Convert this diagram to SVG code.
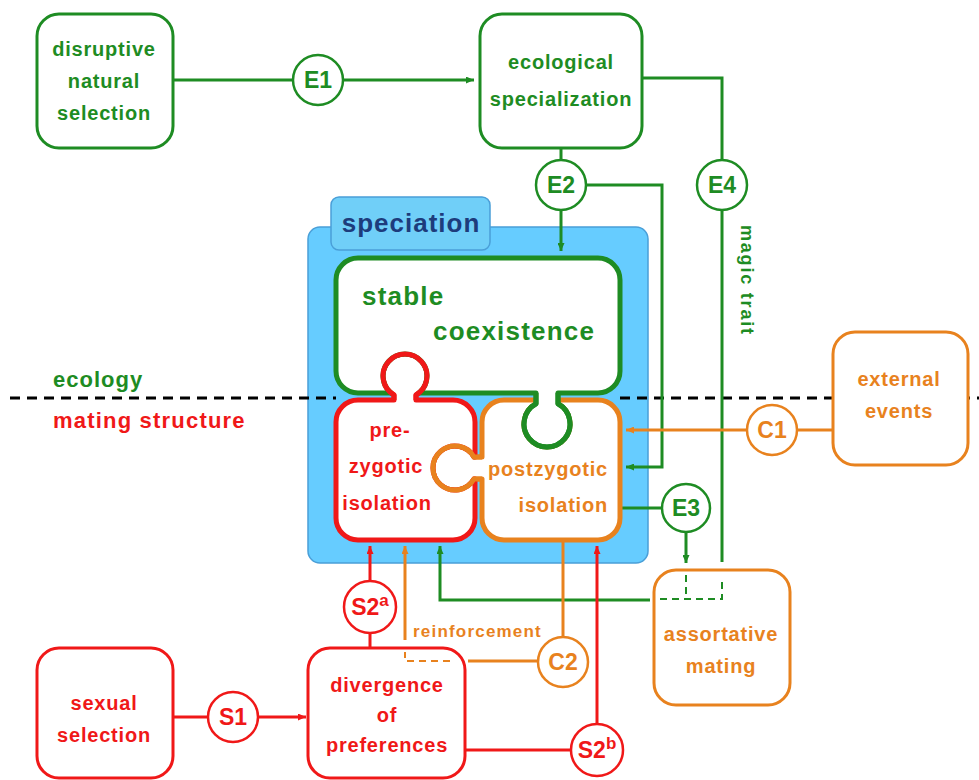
<svg xmlns="http://www.w3.org/2000/svg" width="979" height="780" viewBox="0 0 979 780">
<defs>
<style>
text{font-family:"Liberation Sans",Arial,sans-serif;font-weight:bold;}
.lbl{font-size:20px;letter-spacing:0.8px;text-anchor:middle;}
.g{fill:#1e8c23;} .r{fill:#f01818;} .o{fill:#e8821e;}
.box{fill:#fff;stroke-width:3;}
.sg{stroke:#1e8c23;} .sr{stroke:#f01818;} .so{stroke:#e8821e;}
.circ{fill:#fff;stroke-width:2.5;}
.ct{font-size:23px;text-anchor:middle;}
.ln{fill:none;stroke-width:3;}
.dash{fill:none;stroke-width:2;stroke-dasharray:7 5;}
.piece{fill:#fff;stroke-width:5;stroke-linejoin:round;}
.knob{fill:none;stroke-width:5;stroke-linejoin:round;}
</style>
<marker id="ag" viewBox="0 0 8 7" refX="8" refY="3.5" markerWidth="8" markerHeight="7" markerUnits="userSpaceOnUse" orient="auto"><path d="M0,0 L8,3.5 L0,7 z" fill="#1e8c23"/></marker>
<marker id="ar" viewBox="0 0 8 7" refX="8" refY="3.5" markerWidth="8" markerHeight="7" markerUnits="userSpaceOnUse" orient="auto"><path d="M0,0 L8,3.5 L0,7 z" fill="#f01818"/></marker>
<marker id="ao" viewBox="0 0 8 7" refX="8" refY="3.5" markerWidth="8" markerHeight="7" markerUnits="userSpaceOnUse" orient="auto"><path d="M0,0 L8,3.5 L0,7 z" fill="#e8821e"/></marker>
</defs>
<rect width="979" height="780" fill="#fff"/>

<g id="speciation">
<rect x="308" y="227" width="340" height="336" rx="12" fill="#66ccff" stroke="#4a9fd8" stroke-width="1.5"/>
<rect x="331" y="197" width="159" height="53" rx="8" fill="#70cff8" stroke="#4a9fd8" stroke-width="1.5"/>
<text x="411" y="232" style="font-size:26px;letter-spacing:1px;text-anchor:middle;fill:#1d3c7c">speciation</text>
</g>

<g id="divider">
<path d="M10,398 H336 M620,398 H979" fill="none" stroke="#000" stroke-width="3" stroke-dasharray="10 7"/>
<text x="53" y="387" class="g" style="font-size:22px;letter-spacing:1px">ecology</text>
<text x="53" y="428" class="r" style="font-size:22px;letter-spacing:1.2px">mating structure</text>
</g>

<g id="connectors">
<path class="ln sg" d="M173,80 H293"/>
<path class="ln sg" d="M343,80 H474" marker-end="url(#ag)"/>
<path class="ln sg" d="M561,148 V160"/>
<path class="ln sg" d="M561,210 V251" marker-end="url(#ag)"/>
<path class="ln sg" d="M586,185 H662 V467 H626" marker-end="url(#ag)"/>
<path class="ln sg" d="M642,78 H722 V160"/>
<path class="ln sg" d="M722,210 V562"/>
<path class="ln sg" d="M620,508 H661"/>
<path class="ln sg" d="M686,533 V563" marker-end="url(#ag)"/>
<path class="ln sg" d="M650,600 H440 V546" marker-end="url(#ag)"/>
<path class="dash sg" d="M686,575 V599 M660,599 H722 V580"/>
<path class="ln so" d="M833,430 H797"/>
<path class="ln so" d="M747,430 H626" marker-end="url(#ao)"/>
<path class="ln so" d="M563,637 V541"/>
<path class="ln so" d="M538,661 H468"/>
<path class="dash so" d="M450,661 H405 V652"/>
<path class="ln so" d="M405,640 V546" marker-end="url(#ao)"/>
<path class="ln sr" d="M173,717 H207"/>
<path class="ln sr" d="M259,717 H306" marker-end="url(#ar)"/>
<path class="ln sr" d="M370,648 V634"/>
<path class="ln sr" d="M370,581 V546" marker-end="url(#ar)"/>
<path class="ln sr" d="M465,750 H570"/>
<path class="ln sr" d="M597,723 V546" marker-end="url(#ar)"/>
<text transform="translate(741,225) rotate(90)" class="g" style="font-size:18px;letter-spacing:1.8px">magic trait</text>
<text x="413" y="637" class="o" style="font-size:17px;letter-spacing:1.2px">reinforcement</text>
</g>

<g id="postzygotic">
<path class="piece so" d="M504,400 L536,400 L536,403.8 A23,23 0 1 0 558,403.8 L558,400 L598,400 A22,22 0 0 1 620,422 L620,518 A22,22 0 0 1 598,540 L504,540 A22,22 0 0 1 482,518 L482,479 L474,479 A22,22 0 1 1 474,457 L482,457 L482,422 A22,22 0 0 1 504,400 Z"/>
<text x="608" y="476" class="o" style="font-size:20px;letter-spacing:0.8px;text-anchor:end">postzygotic</text>
<text x="608" y="512" class="o" style="font-size:20px;letter-spacing:0.8px;text-anchor:end">isolation</text>
</g>

<g id="prezygotic">
<path class="piece sr" d="M358,400 L394,400 L394,395 A22,22 0 1 1 416,395 L416,400 L453,400 A22,22 0 0 1 475,422 L475,457 L474,457 A22,22 0 1 0 474,479 L475,479 L475,518 A22,22 0 0 1 453,540 L358,540 A22,22 0 0 1 336,518 L336,422 A22,22 0 0 1 358,400 Z"/>
<text x="390" y="437" class="lbl r">pre-</text>
<text x="386" y="473" class="lbl r">zygotic</text>
<text x="387" y="510" class="lbl r">isolation</text>
</g>

<g id="coexistence">
<path class="piece sg" d="M358,258 L598,258 A22,22 0 0 1 620,280 L620,371 A22,22 0 0 1 598,393 L558,393 L558,403.8 A23,23 0 1 1 536,403.8 L536,393 L419,393 A22,22 0 1 0 391,393 L358,393 A22,22 0 0 1 336,371 L336,280 A22,22 0 0 1 358,258 Z"/>
<text x="362" y="305" class="g" style="font-size:26px;letter-spacing:1.2px">stable</text>
<text x="433" y="340" class="g" style="font-size:26px;letter-spacing:1.2px">coexistence</text>
</g>

<g id="knobs">
<path class="knob sr" d="M394,400 L394,395 A22,22 0 1 1 416,395 L416,400"/>
<path class="knob so" d="M482,479 L474,479 A22,22 0 1 1 474,457 L482,457"/>
<path class="knob sg" d="M558,393 L558,403.8 A23,23 0 1 1 536,403.8 L536,393"/>
</g>

<g id="disruptive">
<rect x="37" y="14" width="136" height="134" rx="22" class="box sg"/>
<text x="104" y="56" class="lbl g">disruptive</text>
<text x="104" y="88" class="lbl g">natural</text>
<text x="104" y="120" class="lbl g">selection</text>
</g>

<g id="ecological">
<rect x="480" y="14" width="162" height="134" rx="22" class="box sg"/>
<text x="561" y="69" class="lbl g">ecological</text>
<text x="561" y="106" class="lbl g">specialization</text>
</g>

<g id="external">
<rect x="833" y="332" width="135" height="133" rx="22" class="box so"/>
<text x="899" y="386" class="lbl o">external</text>
<text x="899" y="418" class="lbl o">events</text>
</g>

<g id="assortative">
<rect x="654" y="570" width="136" height="135" rx="22" class="box so" style="fill:none"/>
<text x="721" y="641" class="lbl o">assortative</text>
<text x="721" y="673" class="lbl o">mating</text>
</g>

<g id="sexual">
<rect x="37" y="648" width="136" height="130" rx="22" class="box sr"/>
<text x="104" y="710" class="lbl r">sexual</text>
<text x="104" y="742" class="lbl r">selection</text>
</g>

<g id="divergence">
<rect x="308" y="648" width="157" height="130" rx="22" class="box sr" style="fill:none"/>
<text x="387" y="692" class="lbl r">divergence</text>
<text x="387" y="722" class="lbl r">of</text>
<text x="387" y="752" class="lbl r">preferences</text>
</g>

<g id="E1"><circle cx="318" cy="80" r="25" class="circ sg"/><text x="318" y="88" class="ct g">E1</text></g>
<g id="E2"><circle cx="561" cy="185" r="25" class="circ sg"/><text x="561" y="193" class="ct g">E2</text></g>
<g id="E4"><circle cx="722" cy="185" r="25" class="circ sg"/><text x="722" y="193" class="ct g">E4</text></g>
<g id="E3"><circle cx="686" cy="508" r="24" class="circ sg"/><text x="686" y="516" class="ct g">E3</text></g>
<g id="C1"><circle cx="772" cy="430" r="25" class="circ so"/><text x="772" y="438" class="ct o">C1</text></g>
<g id="C2"><circle cx="563" cy="662" r="25" class="circ so"/><text x="563" y="670" class="ct o">C2</text></g>
<g id="S1"><circle cx="233" cy="717" r="25" class="circ sr"/><text x="233" y="725" class="ct r">S1</text></g>
<g id="S2a"><circle cx="370" cy="607" r="26" class="circ sr"/><text x="370" y="615" class="ct r">S2<tspan dy="-9" style="font-size:17px">a</tspan></text></g>
<g id="S2b"><circle cx="597" cy="750" r="26" class="circ sr"/><text x="597" y="758" class="ct r">S2<tspan dy="-9" style="font-size:17px">b</tspan></text></g>
</svg>
